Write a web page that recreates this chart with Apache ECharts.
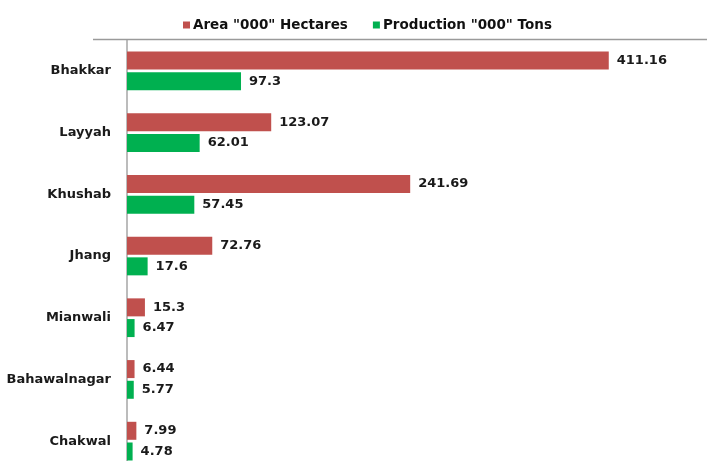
<!DOCTYPE html>
<html>
<head>
<meta charset="utf-8">
<script src="https://cdn.jsdelivr.net/npm/echarts@6/dist/echarts.min.js"></script>
<style>html,body{margin:0;padding:0;background:#fff;}#c{width:707px;height:461px;}</style>
</head>
<body>
<div id="c"></div>
<script>
const categories = ["Bhakkar", "Layyah", "Khushab", "Jhang", "Mianwali", "Bahawalnagar", "Chakwal"];
const areaValues = [411.16, 123.07, 241.69, 72.76, 15.3, 6.44, 7.99];
const productionValues = [97.3, 62.01, 57.45, 17.6, 6.47, 5.77, 4.78];
const seriesNames = ['Area "000" Hectares', 'Production "000" Tons'];

const chart = echarts.init(document.getElementById('c'), null, {renderer: 'canvas'});
const font = 'DejaVu Sans';
const labelStyle = {show: true, position: 'right', distance: 8, color: '#1a1a1a', fontFamily: font, fontWeight: 'bold', fontSize: 13};
chart.setOption({
  animation: false,
  backgroundColor: '#fff',
  legend: {
    top: 13, left: 178,
    icon: 'rect', itemWidth: 7, itemHeight: 7, itemGap: 25,
    textStyle: {fontFamily: font, fontWeight: 'bold', fontSize: 13.5, color: '#111', padding: [0,0,0,-2]},
    data: seriesNames
  },
  grid: {left: 127, top: 40, width: 580, height: 432, containLabel: false, outerBoundsMode: 'none'},
  xAxis: {type: 'value', min: 0, max: 495, show: false},
  yAxis: {
    type: 'category', data: categories, inverse: true,
    axisLine: {show: true, lineStyle: {color: '#a6a6a6', width: 1.5}},
    axisTick: {show: false},
    axisLabel: {fontFamily: font, fontWeight: 'bold', fontSize: 13, color: '#1a1a1a', margin: 16}
  },
  graphic: [{
    type: 'line', shape: {x1: 93, y1: 39.5, x2: 707, y2: 39.5},
    style: {stroke: '#9a9a9a', lineWidth: 1.5}, z: 10
  }],
  series: [
    {name: seriesNames[0], type: 'bar', data: areaValues, barWidth: 18, barGap: '15%',
     itemStyle: {color: '#C0504D'}, label: labelStyle},
    {name: seriesNames[1], type: 'bar', data: productionValues, barWidth: 18, barGap: '15%',
     itemStyle: {color: '#00B050'}, label: labelStyle}
  ]
});
</script>
</body>
</html>
